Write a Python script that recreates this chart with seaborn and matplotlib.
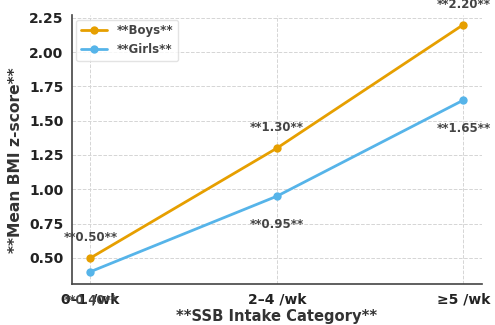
import matplotlib
matplotlib.use("Agg")
import matplotlib.pyplot as plt
import seaborn as sns
import pandas as pd

categories = ["0–1 /wk", "2–4 /wk", "≥5 /wk"]
boys = [0.50, 1.30, 2.20]
girls = [0.40, 0.95, 1.65]
series_names = ["**Boys**", "**Girls**"]
palette = {"**Boys**": "#E69F00", "**Girls**": "#56B4E9"}

sns.set_theme(style="whitegrid")
plt.rcParams["font.family"] = ["DejaVu Sans"]

df = pd.DataFrame({
    "category": categories * 2,
    "value": boys + girls,
    "group": [series_names[0]] * 3 + [series_names[1]] * 3,
})

fig, ax = plt.subplots(figsize=(4.95, 3.25), dpi=100)
fig.subplots_adjust(left=0.145, right=0.974, top=0.954, bottom=0.126)

sns.lineplot(data=df, x="category", y="value", hue="group", palette=palette,
             marker="o", markersize=6, markeredgewidth=0, linewidth=2, ax=ax)

# value labels: boys above, girls below
for i, v in enumerate(boys):
    ax.annotate(f"**{v:.2f}**", (i, v), textcoords="offset points", xytext=(0, 10),
                ha="center", va="bottom", fontsize=8.5, fontweight="bold", color="#444444",
                annotation_clip=False)
for i, v in enumerate(girls):
    ax.annotate(f"**{v:.2f}**", (i, v), textcoords="offset points", xytext=(0, -16),
                ha="center", va="top", fontsize=8.5, fontweight="bold", color="#444444",
                annotation_clip=False)

ax.set_xlim(-0.1, 2.1)
ax.set_ylim(0.31, 2.27)
ax.set_yticks([0.50, 0.75, 1.00, 1.25, 1.50, 1.75, 2.00, 2.25])
ax.set_yticklabels([f"{t:.2f}" for t in ax.get_yticks()])

ax.set_xlabel("**SSB Intake Category**", fontsize=10.6, fontweight="bold", color="#333333", labelpad=2)
ax.set_ylabel("**Mean BMI z-score**", fontsize=11.2, fontweight="bold", color="#333333")
ax.yaxis.set_label_coords(-0.12, 0.46)

ax.tick_params(axis="both", labelsize=10, colors="#222222", length=4, width=0.8, pad=2)
for lbl in ax.get_xticklabels() + ax.get_yticklabels():
    lbl.set_fontweight("bold")

ax.grid(True, linestyle="--", linewidth=0.7, color="#D5D5D5")
for side in ["top", "right"]:
    ax.spines[side].set_visible(False)
for side in ["left", "bottom"]:
    ax.spines[side].set_color("#444444")
    ax.spines[side].set_linewidth(1.2)

leg = ax.legend(loc="upper left", fontsize=8.5, frameon=True, title=None,
                borderaxespad=0.4, handlelength=2.2)
for t in leg.get_texts():
    t.set_fontweight("bold")
    t.set_color("#444444")
leg.get_frame().set_edgecolor("#DDDDDD")

fig.savefig("out.png", dpi=100)
